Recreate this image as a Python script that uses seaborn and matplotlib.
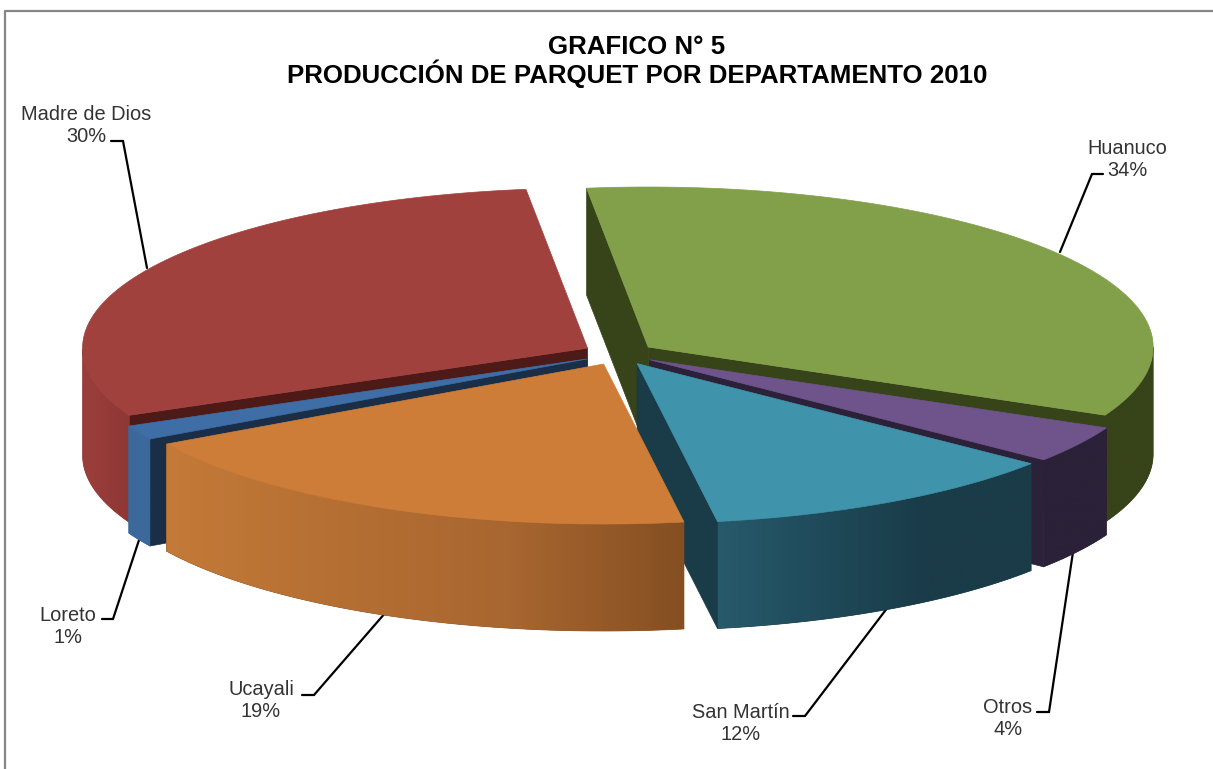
import numpy as np
import matplotlib
matplotlib.use("Agg")
import matplotlib.pyplot as plt
import seaborn as sns
from matplotlib.patches import Polygon

departments = ["Huanuco", "Otros", "San Martín", "Ucayali", "Loreto", "Madre de Dios"]
shares = [33.95, 3.75, 11.7, 19.2, 1.45, 29.95]
share_labels = ["34%", "4%", "12%", "19%", "1%", "30%"]

top_colors = ["#82A04A", "#6E548A", "#3F93AB", "#CE7D38", "#3E6EA5", "#A0413E"]
cut_colors = ["#374319", "#2B2138", "#1A3B48", "#7D4A1E", "#1A2E47", "#4D1A18"]
# wall shading, left to right
wall_colors = [
    ["#374319", "#374319"],
    ["#2B2138", "#2B2138"],
    ["#275A6B", "#1F4A5A", "#1A3B48", "#1A3B48"],
    ["#C47A38", "#B56F33", "#A86630", "#854F22"],
    ["#3C699B", "#3C699B"],
    ["#9C3F3C", "#8E3735"],
]

# pie geometry in pixels
CX, CY = 619, 353.7
RX, RY = 505, 160
DEPTH = 107
EXPLODE = 36
START_ANGLE = -7

# label text centre x, first line y, then leader line points
label_pos = [(1127, 147), (1008, 706), (741, 711), (261, 688), (68, 614), (86, 113)]
leaders = [
    [(1060, 252), (1092, 174), (1103, 174)],
    [(1073, 552), (1049, 712), (1037, 712)],
    [(888, 607), (805, 716), (793, 716)],
    [(386, 612), (314, 695), (302, 695)],
    [(140, 537), (113, 619), (102, 619)],
    [(147, 268), (123, 141), (111, 141)],
]

sns.set_style("white")
plt.rcParams["font.family"] = ["Liberation Sans", "DejaVu Sans"]


def pie_xy(theta, ox, oy):
    t = np.radians(theta)
    return ox + RX * np.sin(t), oy - RY * np.cos(t)


def draw_slice(ax, a0, a1, top, cut, wall, z):
    mid = np.radians((a0 + a1) / 2)
    ox = CX + EXPLODE * np.sin(mid)
    oy = CY - EXPLODE * RY / RX * np.cos(mid)
    th = np.linspace(a0, a1, 200)
    xs, ys = pie_xy(th, ox, oy)

    # cut faces, only the ones turned towards the viewer
    if np.sin(np.radians(a0)) < 0:
        ax.fill([ox, xs[0], xs[0], ox], [oy, ys[0], ys[0] + DEPTH, oy + DEPTH],
                color=cut, lw=0.5, zorder=z)
    if np.sin(np.radians(a1)) > 0:
        ax.fill([ox, xs[-1], xs[-1], ox], [oy, ys[-1], ys[-1] + DEPTH, oy + DEPTH],
                color=cut, lw=0.5, zorder=z)

    # outer wall, gradient image clipped to the wall outline
    front = (th >= 90) & (th <= 270)
    if front.any():
        fx, fy = xs[front], ys[front]
        outline = np.c_[np.r_[fx, fx[::-1]], np.r_[fy, fy[::-1] + DEPTH]]
        ax.fill(outline[:, 0], outline[:, 1], color=wall[-1], lw=0.5, zorder=z + 0.1)
        patch = Polygon(outline, closed=True, transform=ax.transData)
        grad = np.array(sns.blend_palette(wall, 256))[None, :, :]
        im = ax.imshow(grad, extent=[fx.min(), fx.max(), fy.max() + DEPTH, fy.min()],
                       aspect="auto", interpolation="bilinear", zorder=z + 0.2)
        im.set_clip_path(patch)

    ax.fill(np.r_[ox, xs], np.r_[oy, ys], color=top, lw=0.5, zorder=z + 0.5)


fig = plt.figure(figsize=(12.13, 7.69), dpi=100)
ax = fig.add_axes([0, 0, 1, 1])
ax.axis("off")

ax.plot([5, 5, 1213], [769, 11, 11], color="#868686", lw=1.6, zorder=1)

spans = np.array(shares) / sum(shares) * 360
ends = START_ANGLE + np.cumsum(spans)
starts = ends - spans
mids = (starts + ends) / 2

# back slices first so the front ones paint over them
for z, i in enumerate(np.argsort(-np.cos(np.radians(mids)))):
    draw_slice(ax, starts[i], ends[i], top_colors[i], cut_colors[i], wall_colors[i], 2 + z)

for name, pct, (x, y), pts in zip(departments, share_labels, label_pos, leaders):
    ax.text(x, y + 1.5, name, ha="center", va="center", fontsize=14.4, color="#333333", zorder=40)
    ax.text(x, y + 23.5, pct, ha="center", va="center", fontsize=14.4, color="#333333", zorder=40)
    ax.plot(*zip(*pts), color="black", lw=1.6, solid_joinstyle="miter", zorder=1.5)

ax.text(637, 47.5, "GRAFICO N° 5", ha="center", va="center", fontsize=18.6,
        fontweight="bold", color="black", zorder=40)
ax.text(637, 74, "PRODUCCIÓN DE PARQUET POR DEPARTAMENTO 2010", ha="center", va="center",
        fontsize=18.6, fontweight="bold", color="black", zorder=40)

ax.set_xlim(0, 1213)
ax.set_ylim(769, 0)

fig.savefig("out.png", dpi=100)
plt.close(fig)
